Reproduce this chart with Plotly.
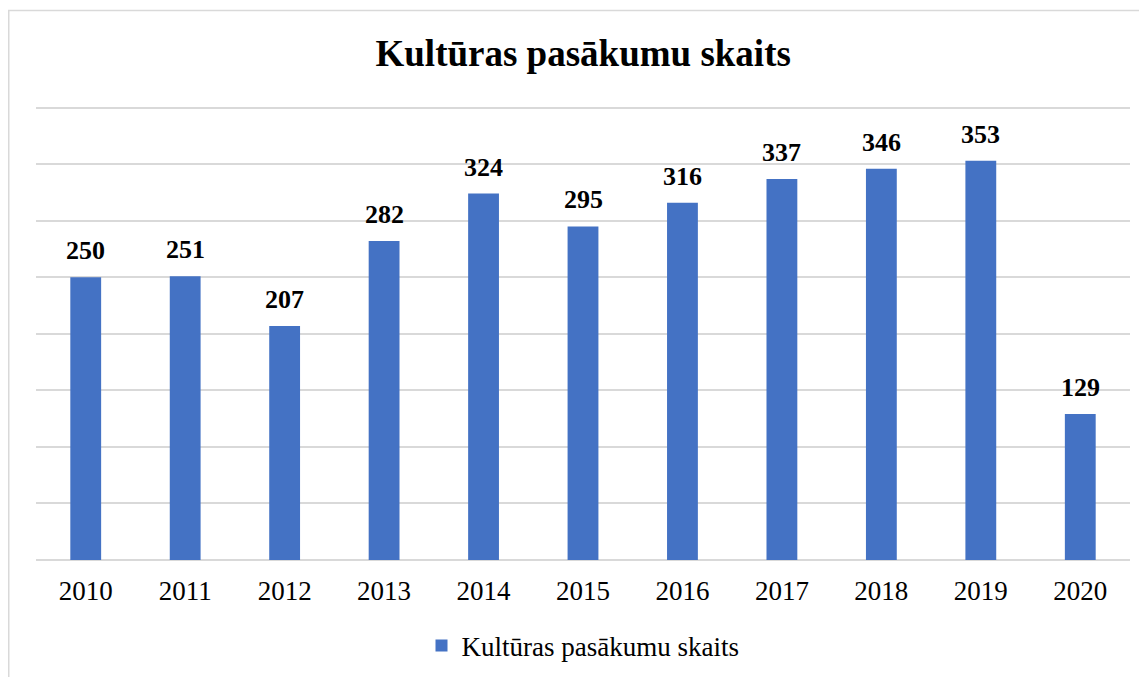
import plotly.graph_objects as go

years = ["2010", "2011", "2012", "2013", "2014", "2015", "2016", "2017", "2018", "2019", "2020"]
values = [250, 251, 207, 282, 324, 295, 316, 337, 346, 353, 129]
series_name = "Kultūras pasākumu skaits"
title_text = "Kultūras pasākumu skaits"

FONT = "Liberation Serif, Times New Roman, serif"
GRID = "#d9d9d9"

W, H = 1139, 669
L, R = 28, 17
PLOT_TOP_400 = 100   # pixel of value 400
BASE = 552           # pixel of value 0
YMAX = 405
ppu = (BASE - PLOT_TOP_400) / 400.0
T = BASE - YMAX * ppu
B = H - BASE
PH = BASE - T

fig = go.Figure()
fig.add_trace(go.Bar(
    x=years, y=values, name=series_name,
    marker=dict(color="#4472C4", line=dict(width=0)),
))

# data labels placed by category index on the category axis
for i, v in enumerate(values):
    fig.add_annotation(x=i, y=v, text="<b>%d</b>" % v, showarrow=False,
                       yanchor="bottom", yshift=10,
                       font=dict(family=FONT, size=26, color="black"))

fig.update_layout(
    width=W, height=H,
    margin=dict(l=L, r=R, t=T, b=B, autoexpand=False),
    paper_bgcolor="white", plot_bgcolor="white",
    bargap=0.69,
    showlegend=True,
    title=dict(text="<b>" + title_text + "</b>", x=0.505, xanchor="center",
               y=1 - 45 / H, yanchor="middle",
               font=dict(family=FONT, size=37, color="black")),
    legend=dict(orientation="h", x=0.5, xanchor="center", y=(BASE - 638) / PH, yanchor="middle",
                font=dict(family=FONT, size=27, color="black"), itemwidth=30),
    xaxis=dict(type="category", range=[-0.5, len(years) - 0.5],
               showgrid=False, showline=False, ticks="", ticklabelstandoff=12,
               tickfont=dict(family=FONT, size=27, color="black")),
    yaxis=dict(range=[0, YMAX], tick0=0, dtick=50, showgrid=True, gridcolor=GRID, gridwidth=1.5,
               zeroline=True, zerolinecolor=GRID, zerolinewidth=1.5,
               showticklabels=False, ticks=""),
)

fig.add_shape(type="rect", xref="paper", yref="paper",
              x0=(0.75 - L) / (W - L - R), x1=1.1, y0=-0.4, y1=(BASE - 3) / PH,
              line=dict(color=GRID, width=1.5), fillcolor="rgba(0,0,0,0)", layer="below")

fig.write_html("out.html")
